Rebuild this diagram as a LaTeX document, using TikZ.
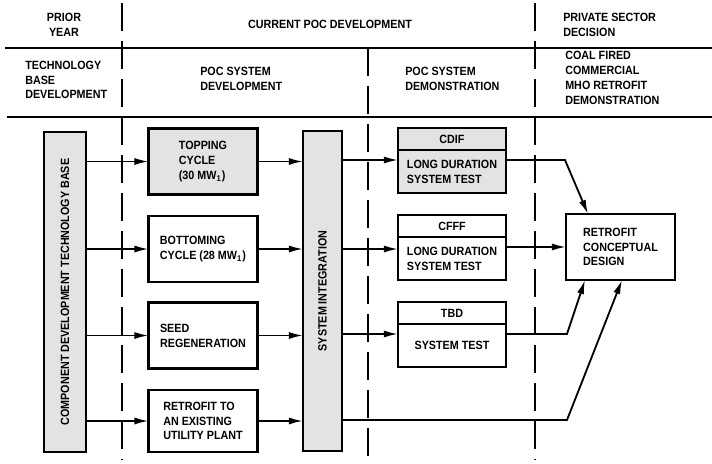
\documentclass[tikz,border=0pt]{standalone}
\usepackage{fontspec}
\setmainfont[FakeStretch=0.9]{Liberation Sans}
\usetikzlibrary{arrows.meta,positioning}

\tikzset{
	blk/.style={draw, line width=1.8pt, outer sep=0pt, inner sep=1pt, align=left, minimum width=2.725cm, minimum height=1.65cm},
	dotfill/.style={fill=black!11},
	tallblk/.style={draw, line width=1.8pt, outer sep=0pt, dotfill, minimum height=8cm},
	hdrblk/.style={draw, line width=1.8pt, outer sep=0pt, inner sep=0pt, minimum width=2.7cm, minimum height=0.55cm},
	bdyblk/.style={draw, line width=1.8pt, outer sep=0pt, inner sep=1pt, align=left, minimum width=2.7cm, minimum height=1.075cm},
	arr/.style={line width=1.3pt, -{Latex[length=10pt,width=5pt]}},
	colline/.style={line width=1.2pt, dash pattern=on 0.7cm off 0.25cm},
	divline/.style={line width=1.8pt},
	headtxt/.style={align=left, anchor=west, inner sep=0pt},
}

\begin{document}
\begin{tikzpicture}[x=0.025cm, y=-0.025cm, font=\bfseries\fontsize{8.5}{10.5}\selectfont]
	\useasboundingbox (0,0) rectangle (712,463);
	
	% header
	\draw[divline] (5,48) -- (712,48);
	\draw[divline] (7,117) -- (712,117);
	\draw[colline] (122,3) -- (122,460);
	\draw[colline] (368,48) -- (368,460);
	\draw[colline] (535,3) -- (535,460);
	
	\node[align=center, inner sep=0pt] (prior) at (64,25) {PRIOR\\YEAR};
	\node[inner sep=0pt] (current) at (330,24) {CURRENT POC DEVELOPMENT};
	\node[headtxt] (private) at (563,25) {PRIVATE SECTOR\\DECISION};
	\node[headtxt] (techbase) at (25,80) {TECHNOLOGY\\BASE\\DEVELOPMENT};
	\node[headtxt] (pocdev) at (200,79) {POC SYSTEM\\DEVELOPMENT};
	\node[headtxt] (pocdemo) at (405,79) {POC SYSTEM\\DEMONSTRATION};
	\node[headtxt] (coal) at (565,78) {COAL FIRED\\COMMERCIAL\\MHO RETROFIT\\DEMONSTRATION};
	
	% tall boxes
	\node[tallblk, minimum width=1.05cm] (comp) at (65,292) {};
	\node[rotate=90] (compt) at (comp) {COMPONENT DEVELOPMENT TECHNOLOGY BASE};
	\node[tallblk, minimum width=0.975cm] (si) at (322.5,291) {};
	\node[rotate=90] (sit) at (si) {SYSTEM INTEGRATION};
	
	% poc system development
	\node[blk, dotfill] (top) at (203,161.5) {TOPPING\\CYCLE\\(30 MW$_\mathbf{1}$)};
	\node[blk] (bot) at (203,249) {BOTTOMING\\CYCLE (28 MW$_\mathbf{1}$)};
	\node[blk] (seed) at (203,335.5) {SEED\\REGENERATION};
	\node[blk, minimum height=1.55cm] (ret) at (203,421) {RETROFIT TO\\AN EXISTING\\UTILITY PLANT};
	
	\foreach \b in {top,bot,seed,ret}
	{
		\draw[arr] (comp.east |- \b.west) -- (\b.west);
		\draw[arr] (\b.east) -- (si.west |- \b.east);
	}
	
	% poc system demonstration
	\node[hdrblk, dotfill] (cdifh) at (452,139) {CDIF};
	\node[bdyblk, dotfill, below=0pt of cdifh] (cdifb) {LONG DURATION\\SYSTEM TEST};
	\node[hdrblk] (cfffh) at (452,226) {CFFF};
	\node[bdyblk, below=0pt of cfffh] (cfffb) {LONG DURATION\\SYSTEM TEST};
	\node[hdrblk] (tbdh) at (452,313) {TBD};
	\node[bdyblk, align=center, below=0pt of tbdh] (tbdb) {SYSTEM TEST};
	
	\coordinate (r1) at (0,160);
	\coordinate (r3) at (0,334);
	\coordinate (r4) at (0,420);
	\draw[arr] (si.east |- r1) -- (cdifb.west |- r1);
	\draw[arr] (si.east |- bot.east) -- (cfffb.west |- bot.east);
	\draw[arr] (si.east |- r3) -- (tbdb.west |- r3);
	
	% private sector decision
	\node[blk] (design) at (620.5,247) {RETROFIT\\CONCEPTUAL\\DESIGN};
	
	\coordinate (k1) at (565,160);
	\coordinate (k3) at (567,334);
	\coordinate (k4) at (567,420);
	\draw[arr] (cdifb.east |- r1) -- (k1) -- ([xshift=0.55cm]design.north west);
	\draw[arr] (cfffb.east |- design.west) -- (design.west);
	\draw[arr] (tbdb.east |- r3) -- (k3) -- ([xshift=0.475cm]design.south west);
	\draw[arr] (si.east |- r4) -- (k4) -- ([xshift=1.4cm]design.south west);
\end{tikzpicture}
\end{document}
